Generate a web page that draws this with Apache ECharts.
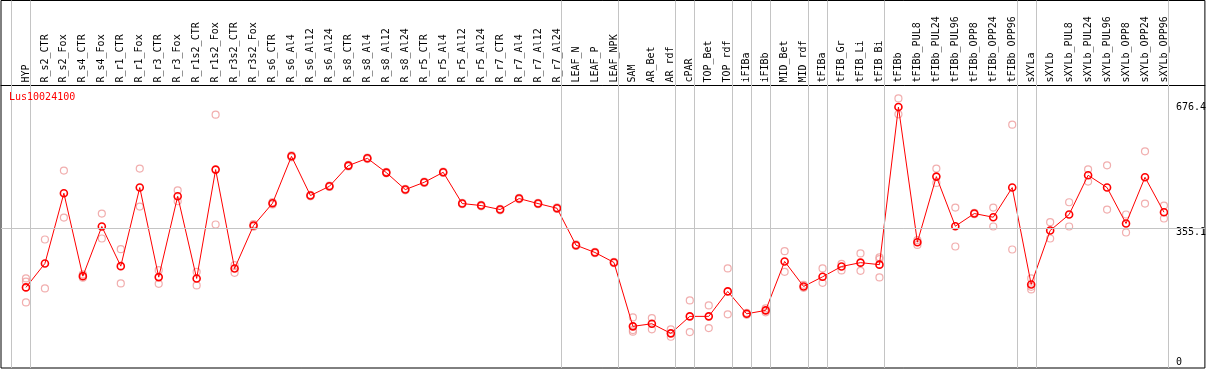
<!DOCTYPE html>
<html>
<head>
<meta charset="utf-8">
<script src="https://cdn.jsdelivr.net/npm/echarts@6/dist/echarts.min.js"></script>
<style>html,body{margin:0;padding:0;background:#fff}#c{width:1209px;height:370px}</style>
</head>
<body>
<div id="c"></div>
<script>
const title = "Lus10024100";
const categories = ["HYP","R_s2_CTR","R_s2_Fox","R_s4_CTR","R_s4_Fox","R_r1_CTR","R_r1_Fox","R_r3_CTR","R_r3_Fox","R_r1s2_CTR","R_r1s2_Fox","R_r3s2_CTR","R_r3s2_Fox","R_s6_CTR","R_s6_Al4","R_s6_Al12","R_s6_Al24","R_s8_CTR","R_s8_Al4","R_s8_Al12","R_s8_Al24","R_r5_CTR","R_r5_Al4","R_r5_Al12","R_r5_Al24","R_r7_CTR","R_r7_Al4","R_r7_Al12","R_r7_Al24","LEAF_N","LEAF_P","LEAF_NPK","SAM","AR_Bet","AR_rdf","cPAR","TOP_Bet","TOP_rdf","iFIBa","iFIBb","MID_Bet","MID_rdf","tFIBa","tFIB_Gr","tFIB_Li","tFIB_Bi","tFIBb","tFIBb_PUL8","tFIBb_PUL24","tFIBb_PUL96","tFIBb_OPP8","tFIBb_OPP24","tFIBb_OPP96","sXYLa","sXYLb","sXYLb_PUL8","sXYLb_PUL24","sXYLb_PUL96","sXYLb_OPP8","sXYLb_OPP24","sXYLb_OPP96"];
const meanValues = [197.9,261.5,447.7,227.8,359.5,254.3,462.8,225.2,439.7,221.7,510.5,248.2,362.1,421.2,545.7,441.6,466.2,521.1,540.4,502.5,457.5,476.8,503.3,420.4,415.1,404.5,433.6,420.4,407.9,309.9,290.6,264.1,94.6,101.5,76.0,121.1,121.1,187.3,127.9,137.0,266.8,200.5,226.0,253.5,263.6,258.3,676.4,317.9,491.9,360.3,393.9,384.1,462.8,205.8,348.9,391.3,495.4,462.8,367.4,490.1,397.4];
const rep1 = [221.7,325.0,507.8,232.3,393.9,299.3,513.1,243.7,455.6,239.2,656.1,257.0,365.6,424.0,548.0,443.5,468.0,523.0,542.0,504.5,459.5,478.5,505.0,422.0,417.0,406.5,435.5,422.0,410.0,312.0,292.5,266.0,118.4,116.6,86.6,163.4,150.2,248.2,130.6,142.3,294.0,204.8,248.2,260.4,288.2,277.6,699.3,323.2,513.1,409.8,396.0,409.8,629.7,221.7,370.9,423.8,511.3,521.9,391.3,558.9,415.1];
const rep2 = [158.1,195.2,383.3,223.8,327.7,208.5,412.4,207.4,426.5,203.2,364.8,236.6,358.9,418.0,543.0,439.5,464.5,519.0,538.5,500.5,455.5,475.0,501.5,418.5,413.0,402.5,431.5,418.5,406.0,308.0,288.5,262.0,84.8,86.6,67.0,79.5,90.1,126.4,125.3,131.7,239.2,196.8,210.1,242.9,241.9,224.4,657.0,310.7,475.0,306.5,392.0,359.5,298.5,192.6,327.7,359.5,478.7,404.5,343.6,420.4,380.7];
const rep3 = [213.5,null,null,null,null,null,null,null,null,null,null,null,null,null,null,null,null,null,null,null,null,null,null,null,null,null,null,null,null,null,null,null,80.5,null,null,null,null,null,null,null,null,null,null,null,null,272.8,null,null,null,null,null,null,null,199.5,null,null,null,null,null,null,null];
const groupEnds = [-1,0,28,31,34,35,37,38,39,41,42,45,52,53,60];
const yTickValues = [0,355.1,676.4];
const midLineValue = 355.1;

const xMin = -25/19, xMax = 1181/19;
const yMin = -15.9, yMax = 959.1;
const FONT = "DejaVu Sans Mono";

const repPoints = [];
[rep1, rep2, rep3].forEach(arr => arr.forEach((v, i) => { if (v != null) repPoints.push([i, v]); }));
const meanPoints = meanValues.map((v, i) => [i, v]);

const chart = echarts.init(document.getElementById('c'), null, {renderer: 'canvas'});
chart.setOption({
  animation: false,
  backgroundColor: '#fff',
  title: {text: title, left: 9, top: 92, padding: 0,
    textStyle: {color: '#ff0000', fontSize: 10, fontWeight: 'normal', fontFamily: FONT}},
  grid: {left: 1, right: 2, top: 0.5, bottom: 2, show: true, borderColor: '#000', borderWidth: 1, backgroundColor: 'transparent'},
  xAxis: {
    type: 'value', min: xMin, max: xMax, position: 'top', offset: -85,
    axisLine: {show: true, onZero: false, lineStyle: {color: '#000', width: 1}},
    axisTick: {show: false}, splitLine: {show: false},
    axisLabel: {show: true, customValues: categories.map((c, i) => i), rotate: -90, margin: 3,
      formatter: v => categories[Math.round(v)] || '', color: '#000', fontSize: 10, fontFamily: FONT,
      showMinLabel: true, showMaxLabel: true, hideOverlap: false}
  },
  yAxis: {
    type: 'value', min: yMin, max: yMax, position: 'right',
    axisLine: {show: false}, axisTick: {show: false}, splitLine: {show: false},
    axisLabel: {show: true, inside: true, customValues: yTickValues, align: 'left', margin: 29,
      formatter: v => (v === midLineValue ? '{low|' + v + '}' : String(v)),
      rich: {low: {padding: [8, 0, 0, 0], fontSize: 10, fontFamily: FONT, color: '#000'}},
      color: '#000', fontSize: 10, fontFamily: FONT, verticalAlign: 'middle',
      showMinLabel: true, showMaxLabel: true}
  },
  series: [
    {
      type: 'scatter', name: 'grid', data: [], z: 0, silent: true,
      markLine: {
        silent: true, symbol: ['none', 'none'], label: {show: false}, animation: false,
        lineStyle: {color: '#c4c4c4', width: 1, type: 'solid'},
        data: groupEnds.map(g => ({xAxis: g + 0.24})).concat([{yAxis: midLineValue}])
      }
    },
    {
      type: 'scatter', name: 'replicates', data: repPoints, z: 2, silent: true,
      symbol: 'circle', symbolSize: 7,
      itemStyle: {color: 'rgba(0,0,0,0)', borderColor: '#ee9a9a', borderWidth: 1.2}
    },
    {
      type: 'line', name: 'mean', data: meanPoints, z: 3, silent: true,
      symbol: 'circle', symbolSize: 7, showAllSymbol: true,
      lineStyle: {color: '#ff0000', width: 1},
      itemStyle: {color: 'rgba(0,0,0,0)', borderColor: '#ff0000', borderWidth: 1.6}
    }
  ]
});
</script>
</body>
</html>
